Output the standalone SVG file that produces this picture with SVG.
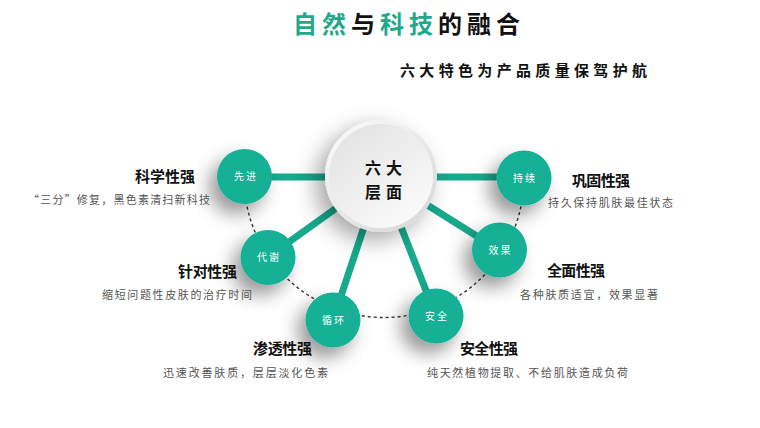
<svg xmlns="http://www.w3.org/2000/svg" width="760" height="428" viewBox="0 0 760 428">
<defs>
<style>
.cjk{font-family:"Noto Sans CJK SC","Noto Sans",sans-serif;}
.ttl{font-size:15px;font-weight:700;fill:#111;}
.dsc{font-size:11px;fill:#555;}
.lbl{font-size:10px;fill:#fff;}
.node{fill:#17b096;}
.spoke{stroke:#17a98c;stroke-width:7;stroke-linecap:butt;}
.dash{fill:none;stroke:#333;stroke-width:1.4;stroke-dasharray:3 3;}
</style>
<filter id="sh" x="-100%" y="-100%" width="300%" height="300%">
<feDropShadow dx="-8" dy="10" stdDeviation="9" flood-color="#000" flood-opacity="0.4"/>
</filter>
<filter id="shc" x="-80%" y="-80%" width="260%" height="260%">
<feDropShadow dx="-9" dy="8" stdDeviation="11" flood-color="#000" flood-opacity="0.35"/>
</filter>
<linearGradient id="cg" x1="0.2" y1="0.1" x2="0.85" y2="0.95">
<stop offset="0" stop-color="#f7f7f7"/>
<stop offset="1" stop-color="#d9d9d9"/>
</linearGradient>
<linearGradient id="cg2" x1="0.2" y1="0.1" x2="0.85" y2="0.95">
<stop offset="0" stop-color="#e4e4e4"/>
<stop offset="1" stop-color="#fbfbfb"/>
</linearGradient>
</defs>
<rect width="760" height="428" fill="#fff"/>

<g id="title" class="cjk">
<text x="293" y="33" font-size="24" font-weight="700" textLength="227" lengthAdjust="spacing"><tspan fill="#1fa98b">自然</tspan><tspan fill="#111">与</tspan><tspan fill="#1fa98b">科技</tspan><tspan fill="#111">的融合</tspan></text>
<text x="400" y="76" font-size="15" font-weight="700" fill="#111" textLength="247" lengthAdjust="spacing">六大特色为产品质量保驾护航</text>
</g>

<g id="connectors">
<path class="dash" d="M244,177 A140 140 0 0 0 524,178"/>
<line class="spoke" x1="381" y1="177" x2="244" y2="177"/>
<line class="spoke" x1="381" y1="177" x2="524" y2="177"/>
<line class="spoke" x1="381" y1="176" x2="268" y2="257"/>
<line class="spoke" x1="381" y1="176" x2="333" y2="320"/>
<line class="spoke" x1="381" y1="176" x2="436" y2="316"/>
<line class="spoke" x1="381" y1="176" x2="499" y2="250"/>
</g>

<g id="center" class="cjk">
<circle cx="381" cy="176" r="56" fill="url(#cg)" filter="url(#shc)"/>
<circle cx="381" cy="176" r="52" fill="url(#cg2)"/>
<text x="365" y="174" font-size="16" font-weight="700" fill="#111" textLength="37" lengthAdjust="spacing">六大</text>
<text x="365" y="198" font-size="16" font-weight="700" fill="#111" textLength="37" lengthAdjust="spacing">层面</text>
</g>

<g id="n-xianjin" class="cjk">
<circle class="node" cx="244.5" cy="176.5" r="27.5" filter="url(#sh)"/>
<text class="lbl" x="234" y="180" textLength="22" lengthAdjust="spacing">先进</text>
</g>
<g id="n-daixie" class="cjk">
<circle class="node" cx="268" cy="257.5" r="27.5" filter="url(#sh)"/>
<text class="lbl" x="257" y="261" textLength="22" lengthAdjust="spacing">代谢</text>
</g>
<g id="n-xunhuan" class="cjk">
<circle class="node" cx="333" cy="320" r="27.5" filter="url(#sh)"/>
<text class="lbl" x="322" y="323.5" textLength="22" lengthAdjust="spacing">循环</text>
</g>
<g id="n-anquan" class="cjk">
<circle class="node" cx="436" cy="316" r="27.5" filter="url(#sh)"/>
<text class="lbl" x="425" y="319.5" textLength="22" lengthAdjust="spacing">安全</text>
</g>
<g id="n-xiaoguo" class="cjk">
<circle class="node" cx="499.5" cy="250" r="27.5" filter="url(#sh)"/>
<text class="lbl" x="488.5" y="253.5" textLength="22" lengthAdjust="spacing">效果</text>
</g>
<g id="n-chixu" class="cjk">
<circle class="node" cx="524" cy="178" r="27.5" filter="url(#sh)"/>
<text class="lbl" x="513" y="181.5" textLength="22" lengthAdjust="spacing">持续</text>
</g>

<g id="t-kexue" class="cjk">
<text class="ttl" x="135" y="182" textLength="60" lengthAdjust="spacing">科学性强</text>
<text class="dsc" x="28" y="204" textLength="182" lengthAdjust="spacing">“三分”修复，黑色素清扫新科技</text>
</g>
<g id="t-zhendui" class="cjk">
<text class="ttl" x="178" y="277" textLength="59" lengthAdjust="spacing">针对性强</text>
<text class="dsc" x="102" y="299" textLength="150" lengthAdjust="spacing">缩短问题性皮肤的治疗时间</text>
</g>
<g id="t-shentou" class="cjk">
<text class="ttl" x="253" y="354" textLength="59" lengthAdjust="spacing">渗透性强</text>
<text class="dsc" x="163" y="377" textLength="165" lengthAdjust="spacing">迅速改善肤质，层层淡化色素</text>
</g>
<g id="t-gonggu" class="cjk">
<text class="ttl" x="572" y="186" textLength="58" lengthAdjust="spacing">巩固性强</text>
<text class="dsc" x="548" y="207" textLength="125" lengthAdjust="spacing">持久保持肌肤最佳状态</text>
</g>
<g id="t-quanmian" class="cjk">
<text class="ttl" x="547" y="276" textLength="58" lengthAdjust="spacing">全面性强</text>
<text class="dsc" x="520" y="299" textLength="138" lengthAdjust="spacing">各种肤质适宜，效果显著</text>
</g>
<g id="t-anquan" class="cjk">
<text class="ttl" x="460" y="354" textLength="58" lengthAdjust="spacing">安全性强</text>
<text class="dsc" x="427" y="377" textLength="201" lengthAdjust="spacing">纯天然植物提取、不给肌肤造成负荷</text>
</g>
</svg>
